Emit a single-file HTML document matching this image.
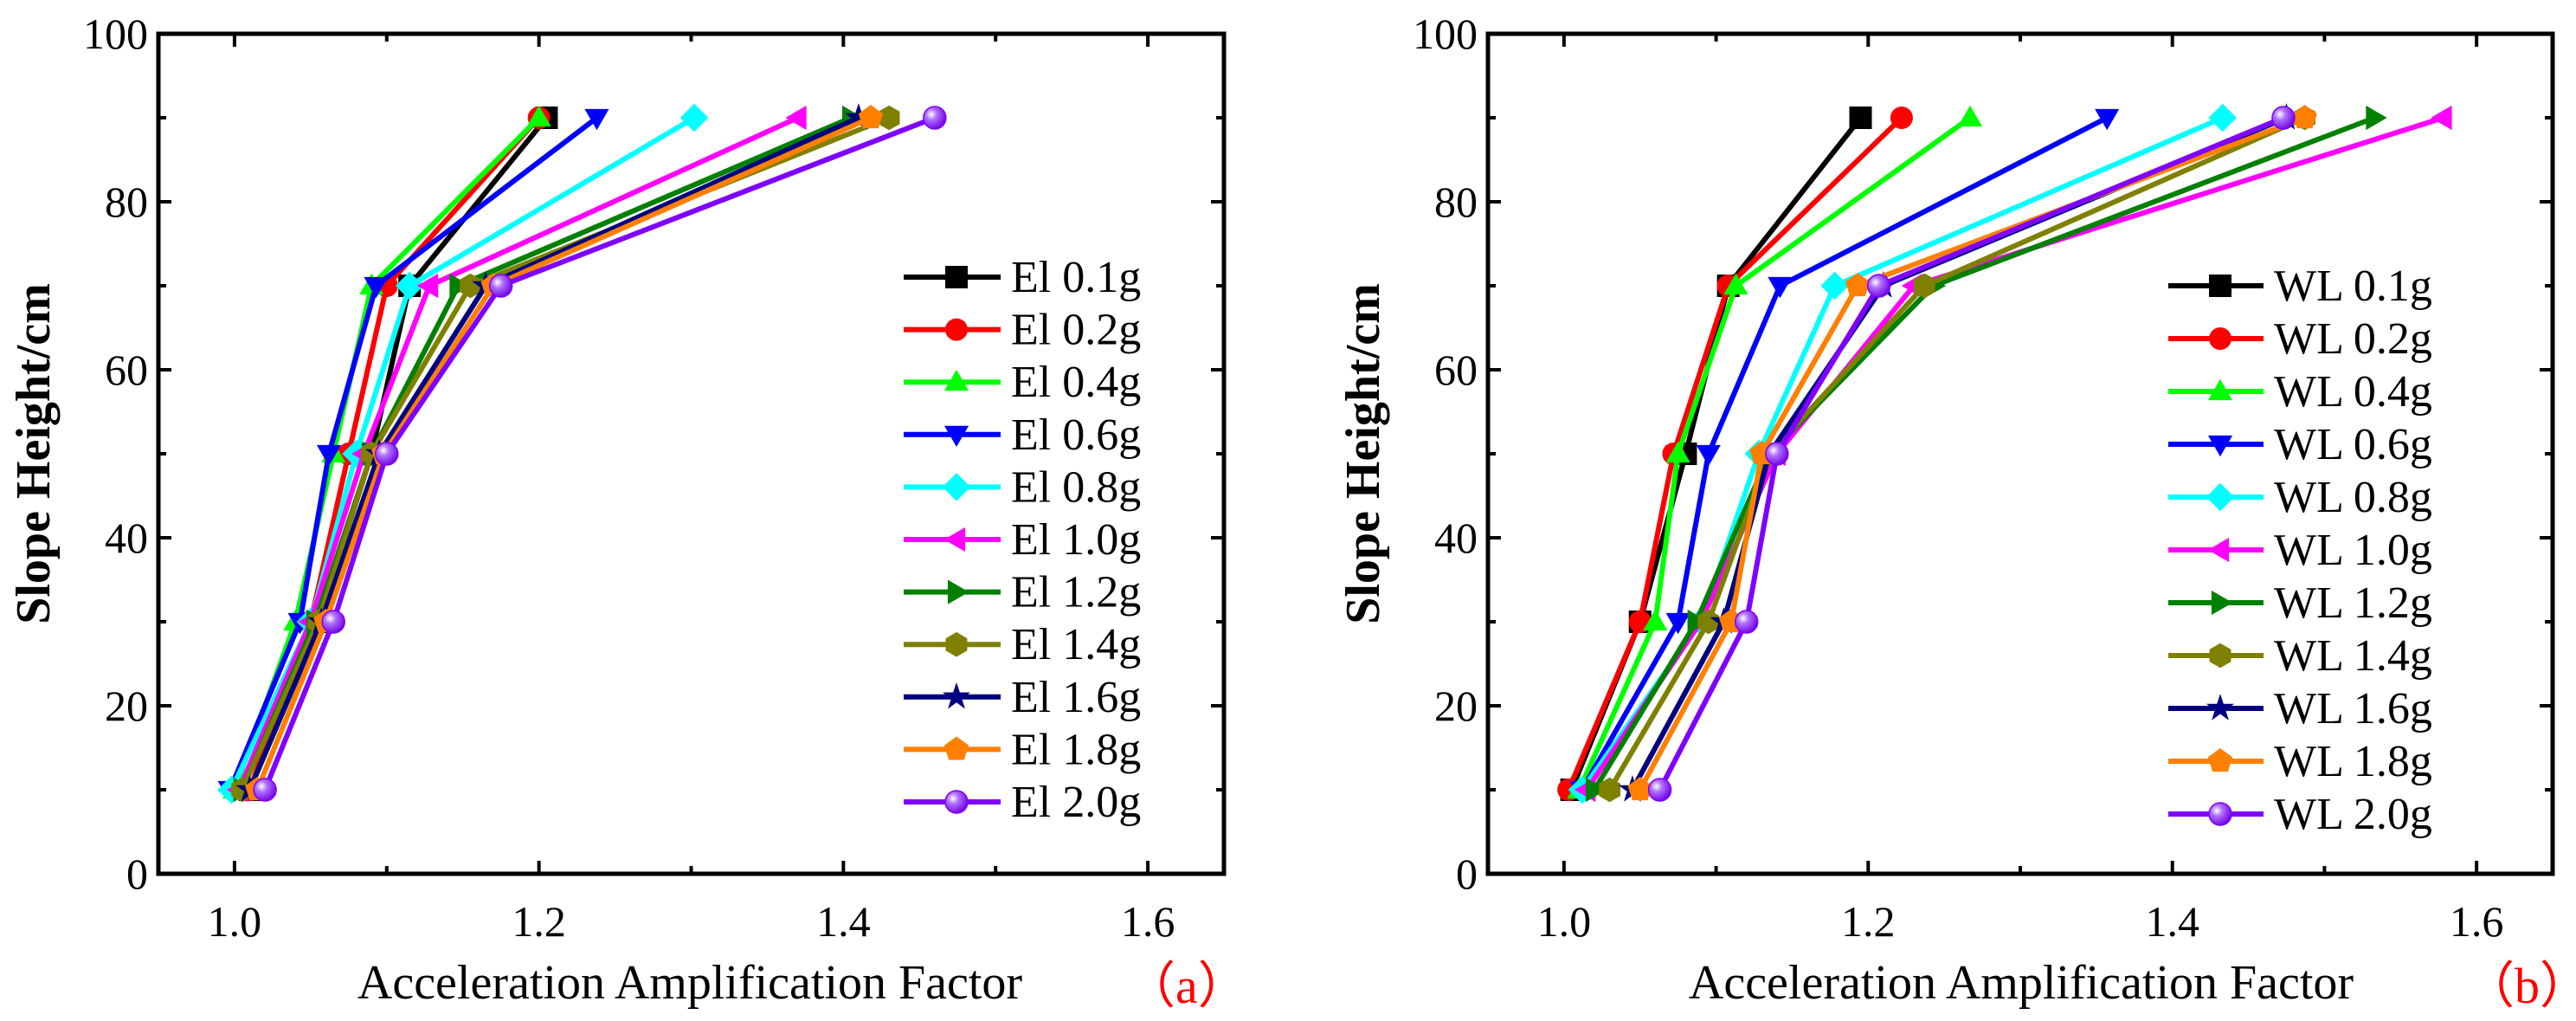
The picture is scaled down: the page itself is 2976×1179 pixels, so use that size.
<!DOCTYPE html>
<html><head><meta charset="utf-8"><style>
html,body{margin:0;padding:0;background:#fff;}
svg{display:block;}
svg text{font-family:"Liberation Serif","Times New Roman",serif;}
</style></head><body>
<svg id="chart" width="2976" height="1179" viewBox="0 0 2976 1179" xmlns="http://www.w3.org/2000/svg" font-family="Liberation Serif, serif"></svg>
<script>
const heights = [10, 30, 50, 70, 90];
const seriesLabels = ["0.1g","0.2g","0.4g","0.6g","0.8g","1.0g","1.2g","1.4g","1.6g","1.8g","2.0g"];
const elValues = [
 [1.01,1.055,1.09,1.115,1.205],
 [1.01,1.05,1.075,1.10,1.20],
 [1.0,1.04,1.065,1.09,1.20],
 [0.997,1.043,1.062,1.093,1.238],
 [0.998,1.05,1.08,1.115,1.302],
 [1.003,1.05,1.085,1.128,1.37],
 [1.005,1.053,1.09,1.147,1.405],
 [1.005,1.055,1.09,1.155,1.43],
 [1.01,1.057,1.095,1.165,1.41],
 [1.015,1.06,1.098,1.17,1.418],
 [1.02,1.065,1.10,1.175,1.46]
];
const wlValues = [
 [1.005,1.05,1.08,1.108,1.195],
 [1.003,1.05,1.072,1.108,1.222],
 [1.01,1.06,1.075,1.113,1.267],
 [1.012,1.075,1.095,1.142,1.357],
 [1.012,1.09,1.128,1.178,1.433],
 [1.015,1.09,1.14,1.23,1.578],
 [1.02,1.087,1.135,1.243,1.533],
 [1.03,1.095,1.135,1.237,1.487],
 [1.045,1.105,1.135,1.21,1.475],
 [1.05,1.11,1.13,1.193,1.487],
 [1.063,1.12,1.14,1.207,1.473]
];
const xTickLabels = ["1.0","1.2","1.4","1.6"];
const xTickValues = [1.0,1.2,1.4,1.6];
const yTickValues = [0,20,40,60,80,100];
const colors = ["#000000","#ff0000","#00ff00","#0000ff","#00ffff","#ff00ff","#008000","#808000","#000080","#ff8000","#8000ff"];
const markers = ["square","circle","up","down","diamond","left","right","hex","star","pent","sphere"];

const NS="http://www.w3.org/2000/svg";
const FONT='"Liberation Serif", serif';
const svg=document.getElementById('chart');
function mk(tag,attrs,parent){const e=document.createElementNS(NS,tag);for(const k in attrs)e.setAttribute(k,attrs[k]);(parent||svg).appendChild(e);return e;}
const defs=mk('defs',{});
const rg=mk('radialGradient',{id:'sph',cx:'0.35',cy:'0.35',r:'0.7'},defs);
mk('stop',{offset:'0','stop-color':'#ffffff'},rg);
mk('stop',{offset:'0.35','stop-color':'#b070ff'},rg);
mk('stop',{offset:'1','stop-color':'#7000e0'},rg);

function polyPts(cx,cy,r,n,rot){let p=[];for(let i=0;i<n;i++){const a=rot+i*2*Math.PI/n;p.push((cx+r*Math.cos(a)).toFixed(1)+','+(cy+r*Math.sin(a)).toFixed(1));}return p.join(' ');}
function drawMarker(g,type,cx,cy,col){
  const s=13;let e;
  if(type==='square')e=mk('rect',{x:cx-s,y:cy-s,width:2*s,height:2*s,fill:col},g);
  else if(type==='circle')e=mk('circle',{cx:cx,cy:cy,r:s,fill:col},g);
  else if(type==='up')e=mk('polygon',{points:polyPts(cx,cy+2,s*1.25,3,-Math.PI/2),fill:col},g);
  else if(type==='down')e=mk('polygon',{points:polyPts(cx,cy-2,s*1.25,3,Math.PI/2),fill:col},g);
  else if(type==='left')e=mk('polygon',{points:polyPts(cx+2,cy,s*1.25,3,Math.PI),fill:col},g);
  else if(type==='right')e=mk('polygon',{points:polyPts(cx-2,cy,s*1.25,3,0),fill:col},g);
  else if(type==='diamond')e=mk('polygon',{points:polyPts(cx,cy,s*1.25,4,0),fill:col},g);
  else if(type==='hex')e=mk('polygon',{points:polyPts(cx,cy,s*1.1,6,Math.PI/2),fill:col},g);
  else if(type==='pent')e=mk('polygon',{points:polyPts(cx,cy,s*1.15,5,-Math.PI/2),fill:col},g);
  else if(type==='star'){let p=[];for(let i=0;i<10;i++){const r=i%2?s*0.5:s*1.3;const a=-Math.PI/2+i*Math.PI/5;p.push((cx+r*Math.cos(a)).toFixed(1)+','+(cy+r*Math.sin(a)).toFixed(1));}e=mk('polygon',{points:p.join(' '),fill:col},g);}
  else if(type==='sphere')e=mk('circle',{cx:cx,cy:cy,r:s,fill:'url(#sph)',stroke:col,'stroke-width':1.5},g);
  return e;
}

function panel(opt){
  const L=opt.left,R=opt.right,T=39,B=1009;
  const xmin=0.95,xmax=1.65,ymin=0,ymax=100;
  const X=v=>L+(v-xmin)/(xmax-xmin)*(R-L);
  const Y=v=>B-(v-ymin)/(ymax-ymin)*(B-T);
  const g=mk('g',{});
  
  
  const tg=mk('g',{stroke:'#000','stroke-width':4},g);
  
  
  for(let v=1.0;v<=1.65;v+=0.1){const x=X(v);const len=(Math.round(v*10)%2===0)?15:9;
    mk('line',{x1:x,y1:B,x2:x,y2:B-len},tg);mk('line',{x1:x,y1:T,x2:x,y2:T+len},tg);}
  for(let v=10;v<100;v+=10){const y=Y(v);const len=(v%20===0)?15:9;
    mk('line',{x1:L,y1:y,x2:L+len,y2:y},tg);mk('line',{x1:R,y1:y,x2:R-len,y2:y},tg);}
  xTickLabels.forEach((lab,i)=>{const t=mk('text',{x:X(xTickValues[i]),y:B+72,'font-size':50,'text-anchor':'middle','font-family':FONT},g);t.textContent=lab;
    });
  yTickValues.forEach(v=>{const t=mk('text',{x:L-12,y:Y(v)+17,'font-size':50,'text-anchor':'end','font-family':FONT},g);t.textContent=v;
    });
  opt.values.forEach((vals,si)=>{
    const sg=mk('g',{},g);
    
    
    const pts=vals.map((v,i)=>X(v).toFixed(1)+','+Y(heights[i]).toFixed(1)).join(' ');
    mk('polyline',{points:pts,fill:'none',stroke:colors[si],'stroke-width':6,'stroke-linejoin':'round'},sg);
    vals.forEach((v,i)=>{const m=drawMarker(sg,markers[si],X(v),Y(heights[i]),colors[si]);
      });
  });
  const fr=mk('rect',{x:L,y:T,width:R-L,height:B-T,fill:'none',stroke:'#000','stroke-width':5},g);
  
  const lg=mk('g',{},g);
  
  seriesLabels.forEach((lab,si)=>{
    const y=opt.legY+si*opt.legDy;
    const eg=mk('g',{},lg);
    
    mk('line',{x1:opt.legX1,y1:y,x2:opt.legX2,y2:y,stroke:colors[si],'stroke-width':6},eg);
    drawMarker(eg,markers[si],(opt.legX1+opt.legX2)/2+5,y,colors[si]);
    const t=mk('text',{x:opt.legX2+12,y:y+17,'font-size':52,'font-family':FONT},eg);t.textContent=opt.prefix+' '+lab;
  });
  const xt=mk('text',{x:opt.xTitleX,y:1153,'font-size':56,'text-anchor':'middle','font-family':FONT},g);xt.textContent='Acceleration Amplification Factor';
  
  const yt=mk('text',{x:0,y:0,'font-size':56,'font-weight':'bold','text-anchor':'middle','font-family':FONT,transform:'translate('+(opt.left-126)+',524) rotate(-90)'},g);yt.textContent='Slope Height/cm';
  
  const pl=mk('text',{x:opt.panelLabelX,y:1158,'font-size':58,fill:'#ff0000','font-family':'"Liberation Serif","Noto Serif CJK SC",serif'},g);pl.textContent=opt.panelLabel;
  
}
panel({name:'panel-a',left:183,right:1414,values:elValues,prefix:'El',legX1:1044,legX2:1156,legY:320,legDy:60.6,xTitleX:797,panelLabelX:1300,panelLabel:'（a）'});
panel({name:'panel-b',left:1719,right:2949,values:wlValues,prefix:'WL',legX1:2505,legX2:2615,legY:330,legDy:61,xTitleX:2335,panelLabelX:2847,panelLabel:'（b）'});
</script>
</body></html>
